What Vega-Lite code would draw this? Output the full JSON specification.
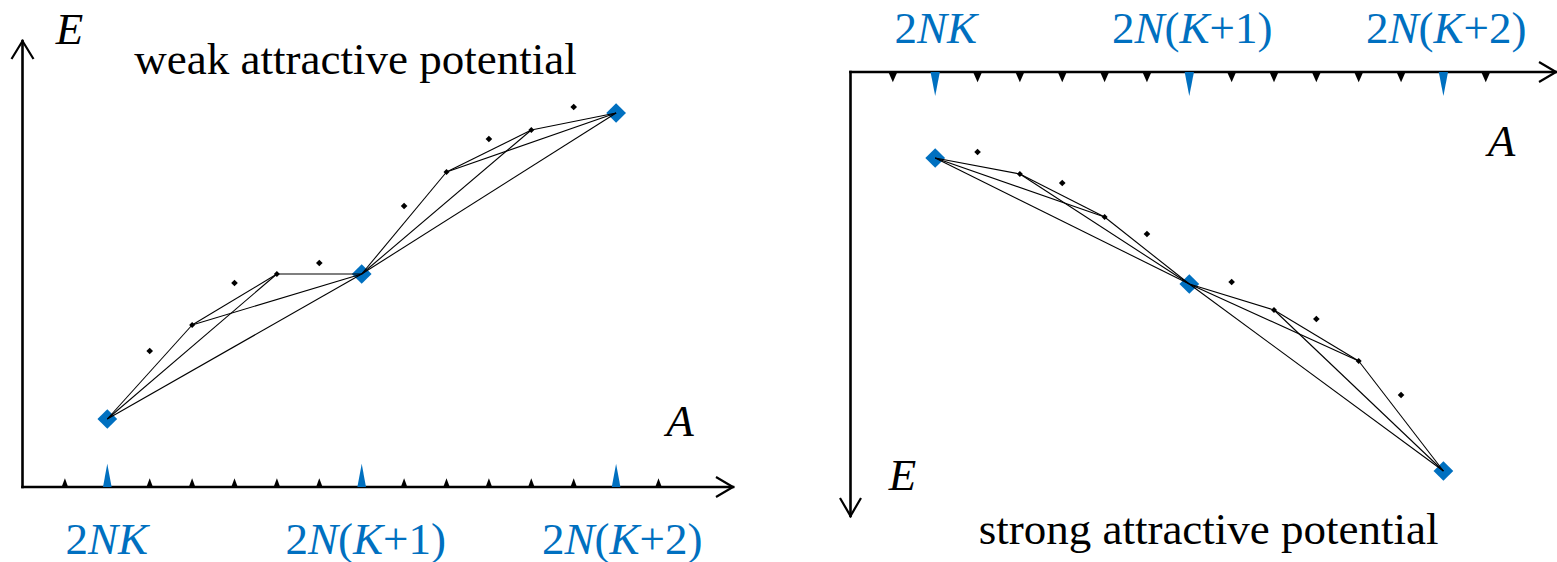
{
  "$schema": "https://vega.github.io/schema/vega-lite/v6.json",
  "padding": 0,
  "spacing": 0,
  "config": {"view": {"stroke": null}},
  "datasets": {
    "points": [
      {"panel": "weak", "A": 2, "E": 6.8, "type": "state"},
      {"panel": "weak", "A": 3, "E": 13.6, "type": "dot"},
      {"panel": "weak", "A": 4, "E": 16.2, "type": "node"},
      {"panel": "weak", "A": 5, "E": 20.4, "type": "dot"},
      {"panel": "weak", "A": 6, "E": 21.3, "type": "node"},
      {"panel": "weak", "A": 7, "E": 22.4, "type": "dot"},
      {"panel": "weak", "A": 8, "E": 21.3, "type": "state"},
      {"panel": "weak", "A": 9, "E": 28.1, "type": "dot"},
      {"panel": "weak", "A": 10, "E": 31.5, "type": "node"},
      {"panel": "weak", "A": 11, "E": 34.8, "type": "dot"},
      {"panel": "weak", "A": 12, "E": 35.7, "type": "node"},
      {"panel": "weak", "A": 13, "E": 38.0, "type": "dot"},
      {"panel": "weak", "A": 14, "E": 37.4, "type": "state"},
      {"panel": "strong", "A": 2, "E": 8.6, "type": "state"},
      {"panel": "strong", "A": 3, "E": 8.0, "type": "dot"},
      {"panel": "strong", "A": 4, "E": 10.2, "type": "node"},
      {"panel": "strong", "A": 5, "E": 11.1, "type": "dot"},
      {"panel": "strong", "A": 6, "E": 14.5, "type": "node"},
      {"panel": "strong", "A": 7, "E": 16.2, "type": "dot"},
      {"panel": "strong", "A": 8, "E": 21.2, "type": "state"},
      {"panel": "strong", "A": 9, "E": 21.0, "type": "dot"},
      {"panel": "strong", "A": 10, "E": 23.8, "type": "node"},
      {"panel": "strong", "A": 11, "E": 24.7, "type": "dot"},
      {"panel": "strong", "A": 12, "E": 28.9, "type": "node"},
      {"panel": "strong", "A": 13, "E": 32.3, "type": "dot"},
      {"panel": "strong", "A": 14, "E": 39.9, "type": "state"}
    ],
    "edges": [
      {"panel": "weak", "A": 2, "E": 6.8, "A2": 4, "E2": 16.2},
      {"panel": "weak", "A": 2, "E": 6.8, "A2": 6, "E2": 21.3},
      {"panel": "weak", "A": 2, "E": 6.8, "A2": 8, "E2": 21.3},
      {"panel": "weak", "A": 4, "E": 16.2, "A2": 6, "E2": 21.3},
      {"panel": "weak", "A": 4, "E": 16.2, "A2": 8, "E2": 21.3},
      {"panel": "weak", "A": 6, "E": 21.3, "A2": 8, "E2": 21.3},
      {"panel": "weak", "A": 8, "E": 21.3, "A2": 10, "E2": 31.5},
      {"panel": "weak", "A": 8, "E": 21.3, "A2": 12, "E2": 35.7},
      {"panel": "weak", "A": 8, "E": 21.3, "A2": 14, "E2": 37.4},
      {"panel": "weak", "A": 10, "E": 31.5, "A2": 12, "E2": 35.7},
      {"panel": "weak", "A": 10, "E": 31.5, "A2": 14, "E2": 37.4},
      {"panel": "weak", "A": 12, "E": 35.7, "A2": 14, "E2": 37.4},
      {"panel": "strong", "A": 2, "E": 8.6, "A2": 4, "E2": 10.2},
      {"panel": "strong", "A": 2, "E": 8.6, "A2": 6, "E2": 14.5},
      {"panel": "strong", "A": 2, "E": 8.6, "A2": 8, "E2": 21.2},
      {"panel": "strong", "A": 4, "E": 10.2, "A2": 6, "E2": 14.5},
      {"panel": "strong", "A": 4, "E": 10.2, "A2": 8, "E2": 21.2},
      {"panel": "strong", "A": 6, "E": 14.5, "A2": 8, "E2": 21.2},
      {"panel": "strong", "A": 8, "E": 21.2, "A2": 10, "E2": 23.8},
      {"panel": "strong", "A": 8, "E": 21.2, "A2": 12, "E2": 28.9},
      {"panel": "strong", "A": 8, "E": 21.2, "A2": 14, "E2": 39.9},
      {"panel": "strong", "A": 10, "E": 23.8, "A2": 12, "E2": 28.9},
      {"panel": "strong", "A": 10, "E": 23.8, "A2": 14, "E2": 39.9},
      {"panel": "strong", "A": 12, "E": 28.9, "A2": 14, "E2": 39.9}
    ],
    "axes": [
      {"panel": "weak", "A": 0, "E": 0, "A2": 0, "E2": 44.6},
      {"panel": "weak", "A": 0, "E": 0, "A2": 16.757, "E2": 0},
      {"panel": "strong", "A": 0, "E": 0, "A2": 0, "E2": 44.4},
      {"panel": "strong", "A": 0, "E": 0, "A2": 16.659, "E2": 0}
    ],
    "arrows": [
      {"panel": "weak", "A": 0, "E": 44.6, "dir": "up"},
      {"panel": "weak", "A": 16.757, "E": 0, "dir": "right"},
      {"panel": "strong", "A": 16.659, "E": 0, "dir": "right"},
      {"panel": "strong", "A": 0, "E": 44.4, "dir": "down"}
    ],
    "ticks": [
      {"A": 1, "E": 0, "major": false},
      {"A": 2, "E": 0, "major": true},
      {"A": 3, "E": 0, "major": false},
      {"A": 4, "E": 0, "major": false},
      {"A": 5, "E": 0, "major": false},
      {"A": 6, "E": 0, "major": false},
      {"A": 7, "E": 0, "major": false},
      {"A": 8, "E": 0, "major": true},
      {"A": 9, "E": 0, "major": false},
      {"A": 10, "E": 0, "major": false},
      {"A": 11, "E": 0, "major": false},
      {"A": 12, "E": 0, "major": false},
      {"A": 13, "E": 0, "major": false},
      {"A": 14, "E": 0, "major": true},
      {"A": 15, "E": 0, "major": false}
    ],
    "texts": [
      {"panel": "weak", "role": "title", "style": "upright", "A": 7.854, "E": 41.35, "t": "weak attractive potential"},
      {"panel": "weak", "role": "name", "style": "italic", "A": 1.108, "E": 44.33, "t": "E"},
      {"panel": "weak", "role": "name", "style": "italic", "A": 15.507, "E": 5.15, "t": "A"},
      {"panel": "weak", "role": "label", "style": "upright", "A": 1.0142, "E": -6.7, "t": "2"},
      {"panel": "weak", "role": "label", "style": "italic", "A": 1.5448, "E": -6.7, "t": "NK"},
      {"panel": "weak", "role": "label", "style": "upright", "A": 6.2028, "E": -6.7, "t": "2"},
      {"panel": "weak", "role": "label", "style": "italic", "A": 6.7335, "E": -6.7, "t": "N"},
      {"panel": "weak", "role": "label", "style": "upright", "A": 7.441, "E": -6.7, "t": "("},
      {"panel": "weak", "role": "label", "style": "italic", "A": 7.7948, "E": -6.7, "t": "K"},
      {"panel": "weak", "role": "label", "style": "upright", "A": 8.5024, "E": -6.7, "t": "+1)"},
      {"panel": "weak", "role": "label", "style": "upright", "A": 12.2524, "E": -6.7, "t": "2"},
      {"panel": "weak", "role": "label", "style": "italic", "A": 12.783, "E": -6.7, "t": "N"},
      {"panel": "weak", "role": "label", "style": "upright", "A": 13.4906, "E": -6.7, "t": "("},
      {"panel": "weak", "role": "label", "style": "italic", "A": 13.8443, "E": -6.7, "t": "K"},
      {"panel": "weak", "role": "label", "style": "upright", "A": 14.5519, "E": -6.7, "t": "+2)"},
      {"panel": "strong", "role": "title", "style": "upright", "A": 8.4557, "E": 47.2, "t": "strong attractive potential"},
      {"panel": "strong", "role": "name", "style": "italic", "A": 1.2279, "E": 41.8, "t": "E"},
      {"panel": "strong", "role": "name", "style": "italic", "A": 15.372, "E": 8.4, "t": "A"},
      {"panel": "strong", "role": "label", "style": "upright", "A": 1.039, "E": -2.9, "t": "2"},
      {"panel": "strong", "role": "label", "style": "italic", "A": 1.5703, "E": -2.9, "t": "NK"},
      {"panel": "strong", "role": "label", "style": "upright", "A": 6.1747, "E": -2.9, "t": "2"},
      {"panel": "strong", "role": "label", "style": "italic", "A": 6.706, "E": -2.9, "t": "N"},
      {"panel": "strong", "role": "label", "style": "upright", "A": 7.4144, "E": -2.9, "t": "("},
      {"panel": "strong", "role": "label", "style": "italic", "A": 7.7686, "E": -2.9, "t": "K"},
      {"panel": "strong", "role": "label", "style": "upright", "A": 8.477, "E": -2.9, "t": "+1)"},
      {"panel": "strong", "role": "label", "style": "upright", "A": 12.1724, "E": -2.9, "t": "2"},
      {"panel": "strong", "role": "label", "style": "italic", "A": 12.7037, "E": -2.9, "t": "N"},
      {"panel": "strong", "role": "label", "style": "upright", "A": 13.412, "E": -2.9, "t": "("},
      {"panel": "strong", "role": "label", "style": "italic", "A": 13.7662, "E": -2.9, "t": "K"},
      {"panel": "strong", "role": "label", "style": "upright", "A": 14.4746, "E": -2.9, "t": "+2)"}
    ]
  },
  "hconcat": [
    {
      "width": 800,
      "height": 562,
      "encoding": {
        "x": {"field": "A", "type": "quantitative", "scale": {"domain": [-0.5307, 18.3373], "nice": false, "zero": false}, "axis": null},
        "y": {"field": "E", "type": "quantitative", "scale": {"domain": [-7.5, 48.7], "nice": false, "zero": false}, "axis": null}
      },
      "layer": [
        {"data": {"name": "axes"}, "transform": [{"filter": "datum.panel === 'weak'"}], "mark": {"type": "rule", "color": "black", "strokeWidth": 2.6, "strokeCap": "square"}, "encoding": {"x2": {"field": "A2"}, "y2": {"field": "E2"}}},
        {"data": {"name": "arrows"}, "transform": [{"filter": "datum.panel === 'weak' && datum.dir === 'up'"}], "mark": {"type": "point", "shape": "M-1.1,1.8L0,0L1.1,1.8", "size": 400, "filled": false, "color": "black", "strokeWidth": 2.2, "opacity": 1}},
        {"data": {"name": "arrows"}, "transform": [{"filter": "datum.panel === 'weak' && datum.dir === 'right'"}], "mark": {"type": "point", "shape": "M-1.7,-1L0,0L-1.7,1", "size": 400, "filled": false, "color": "black", "strokeWidth": 2.2, "opacity": 1}},
        {"data": {"name": "ticks"}, "transform": [{"filter": "!datum.major"}], "mark": {"type": "point", "shape": "M-1,0L0,-2.7L1,0Z", "size": 42, "filled": true, "color": "black", "strokeWidth": 0, "opacity": 1}},
        {"data": {"name": "ticks"}, "transform": [{"filter": "datum.major"}], "mark": {"type": "point", "shape": "M-1,0L0,-5.4L1,0Z", "size": 74, "filled": true, "color": "#0070C0", "strokeWidth": 0, "opacity": 1}},
        {"data": {"name": "points"}, "transform": [{"filter": "datum.panel === 'weak' && datum.type === 'state'"}], "mark": {"type": "point", "shape": "diamond", "size": 390, "filled": true, "color": "#0070C0", "strokeWidth": 0, "opacity": 1}},
        {"data": {"name": "edges"}, "transform": [{"filter": "datum.panel === 'weak'"}], "mark": {"type": "rule", "color": "black", "strokeWidth": 1.1}, "encoding": {"x2": {"field": "A2"}, "y2": {"field": "E2"}}},
        {"data": {"name": "points"}, "transform": [{"filter": "datum.panel === 'weak' && datum.type === 'node'"}], "mark": {"type": "point", "shape": "diamond", "size": 36, "filled": true, "color": "black", "strokeWidth": 0, "opacity": 1}},
        {"data": {"name": "points"}, "transform": [{"filter": "datum.panel === 'weak' && datum.type === 'dot'"}], "mark": {"type": "point", "shape": "diamond", "size": 44, "filled": true, "color": "black", "strokeWidth": 0, "opacity": 1}},
        {"data": {"name": "texts"}, "transform": [{"filter": "datum.panel === 'weak' && datum.role === 'title'"}], "mark": {"type": "text", "font": "Liberation Serif", "fontSize": 45, "align": "center", "baseline": "alphabetic", "color": "black"}, "encoding": {"text": {"field": "t"}}},
        {"data": {"name": "texts"}, "transform": [{"filter": "datum.panel === 'weak' && datum.role === 'name'"}], "mark": {"type": "text", "font": "Liberation Serif", "fontSize": 45, "fontStyle": "italic", "align": "center", "baseline": "alphabetic", "color": "black"}, "encoding": {"text": {"field": "t"}}},
        {"data": {"name": "texts"}, "transform": [{"filter": "datum.panel === 'weak' && datum.role === 'label' && datum.style === 'upright'"}], "mark": {"type": "text", "font": "Liberation Serif", "fontSize": 45, "align": "left", "baseline": "alphabetic", "color": "#0070C0"}, "encoding": {"text": {"field": "t"}}},
        {"data": {"name": "texts"}, "transform": [{"filter": "datum.panel === 'weak' && datum.role === 'label' && datum.style === 'italic'"}], "mark": {"type": "text", "font": "Liberation Serif", "fontSize": 45, "fontStyle": "italic", "align": "left", "baseline": "alphabetic", "color": "#0070C0"}, "encoding": {"text": {"field": "t"}}}
      ]
    },
    {
      "width": 757,
      "height": 562,
      "encoding": {
        "x": {"field": "A", "type": "quantitative", "scale": {"domain": [-1.1924, 16.6824], "nice": false, "zero": false}, "axis": null},
        "y": {"field": "E", "type": "quantitative", "scale": {"domain": [-7.2, 49.0], "nice": false, "zero": false, "reverse": true}, "axis": null}
      },
      "layer": [
        {"data": {"name": "axes"}, "transform": [{"filter": "datum.panel === 'strong'"}], "mark": {"type": "rule", "color": "black", "strokeWidth": 2.6, "strokeCap": "square"}, "encoding": {"x2": {"field": "A2"}, "y2": {"field": "E2"}}},
        {"data": {"name": "arrows"}, "transform": [{"filter": "datum.panel === 'strong' && datum.dir === 'down'"}], "mark": {"type": "point", "shape": "M-1.05,-1.8L0,0L1.05,-1.8", "size": 400, "filled": false, "color": "black", "strokeWidth": 2.2, "opacity": 1}},
        {"data": {"name": "arrows"}, "transform": [{"filter": "datum.panel === 'strong' && datum.dir === 'right'"}], "mark": {"type": "point", "shape": "M-1.7,-1L0,0L-1.7,1", "size": 400, "filled": false, "color": "black", "strokeWidth": 2.2, "opacity": 1}},
        {"data": {"name": "ticks"}, "transform": [{"filter": "!datum.major"}], "mark": {"type": "point", "shape": "M-1,0L0,2.3L1,0Z", "size": 81, "filled": true, "color": "black", "strokeWidth": 0, "opacity": 1}},
        {"data": {"name": "ticks"}, "transform": [{"filter": "datum.major"}], "mark": {"type": "point", "shape": "M-1,0L0,5.2L1,0Z", "size": 86, "filled": true, "color": "#0070C0", "strokeWidth": 0, "opacity": 1}},
        {"data": {"name": "points"}, "transform": [{"filter": "datum.panel === 'strong' && datum.type === 'state'"}], "mark": {"type": "point", "shape": "diamond", "size": 390, "filled": true, "color": "#0070C0", "strokeWidth": 0, "opacity": 1}},
        {"data": {"name": "edges"}, "transform": [{"filter": "datum.panel === 'strong'"}], "mark": {"type": "rule", "color": "black", "strokeWidth": 1.1}, "encoding": {"x2": {"field": "A2"}, "y2": {"field": "E2"}}},
        {"data": {"name": "points"}, "transform": [{"filter": "datum.panel === 'strong' && datum.type === 'node'"}], "mark": {"type": "point", "shape": "diamond", "size": 36, "filled": true, "color": "black", "strokeWidth": 0, "opacity": 1}},
        {"data": {"name": "points"}, "transform": [{"filter": "datum.panel === 'strong' && datum.type === 'dot'"}], "mark": {"type": "point", "shape": "diamond", "size": 44, "filled": true, "color": "black", "strokeWidth": 0, "opacity": 1}},
        {"data": {"name": "texts"}, "transform": [{"filter": "datum.panel === 'strong' && datum.role === 'title'"}], "mark": {"type": "text", "font": "Liberation Serif", "fontSize": 45, "align": "center", "baseline": "alphabetic", "color": "black"}, "encoding": {"text": {"field": "t"}}},
        {"data": {"name": "texts"}, "transform": [{"filter": "datum.panel === 'strong' && datum.role === 'name'"}], "mark": {"type": "text", "font": "Liberation Serif", "fontSize": 45, "fontStyle": "italic", "align": "center", "baseline": "alphabetic", "color": "black"}, "encoding": {"text": {"field": "t"}}},
        {"data": {"name": "texts"}, "transform": [{"filter": "datum.panel === 'strong' && datum.role === 'label' && datum.style === 'upright'"}], "mark": {"type": "text", "font": "Liberation Serif", "fontSize": 45, "align": "left", "baseline": "alphabetic", "color": "#0070C0"}, "encoding": {"text": {"field": "t"}}},
        {"data": {"name": "texts"}, "transform": [{"filter": "datum.panel === 'strong' && datum.role === 'label' && datum.style === 'italic'"}], "mark": {"type": "text", "font": "Liberation Serif", "fontSize": 45, "fontStyle": "italic", "align": "left", "baseline": "alphabetic", "color": "#0070C0"}, "encoding": {"text": {"field": "t"}}}
      ]
    }
  ]
}
